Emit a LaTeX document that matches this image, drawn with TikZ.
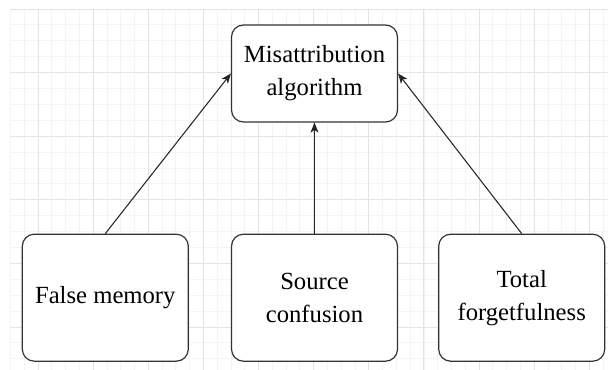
\documentclass[tikz,border=0pt]{standalone}
\usepackage{fontspec}
\setmainfont{Liberation Serif}
\usetikzlibrary{arrows.meta, positioning}

\definecolor{gridminor}{HTML}{F4F4F4}
\definecolor{gridmajor}{HTML}{E4E4E4}
\tikzset{
  box/.style={draw=black!80, line width=.9pt, rounded corners=9pt, fill=white,
    align=center, inner sep=2pt, font=\fontsize{18.5}{24.75}\selectfont},
  topbox/.style={box, minimum width=124.5pt, minimum height=72.75pt},
  causebox/.style={box, minimum width=124.5pt, minimum height=95.25pt},
  link/.style={->, line width=.8pt, black!85}
}

\begin{document}
\begin{tikzpicture}[x=.75pt,y=-.75pt,>={Stealth[length=7.5pt,width=6pt,inset=2pt]}]
\useasboundingbox (0,0) rectangle (608,370);
% background grid
\foreach \i in {0,...,43}
  \draw [gridminor, line width=.6pt] ({10.5+13.78*\i},9) -- ({10.5+13.78*\i},370);
\foreach \j in {0,...,22}
  \draw [gridminor, line width=.6pt] (10,{9+15.9*\j}) -- (608,{9+15.9*\j});
\foreach \i in {0,...,10}
  \draw [gridmajor, line width=.6pt] ({38+55.12*\i},9) -- ({38+55.12*\i},370);
\foreach \j in {0,...,5}
  \draw [gridmajor, line width=.6pt] (10,{9+63.6*\j}) -- (608,{9+63.6*\j});

\node [topbox] (MA) at (314.5,73.5) {Misattribution\\algorithm};
\node [causebox, below=83.25pt of MA] (SC) {Source\\confusion};
\node [causebox, left=31.5pt of SC] (FM) {False memory};
\node [causebox, right=30pt of SC] (TF) {Total\\forgetfulness};

\draw [link] (FM.north) -- (MA.west);
\draw [link] (SC.north) -- (MA.south);
\draw [link] (TF.north) -- (MA.east);
\end{tikzpicture}
\end{document}
